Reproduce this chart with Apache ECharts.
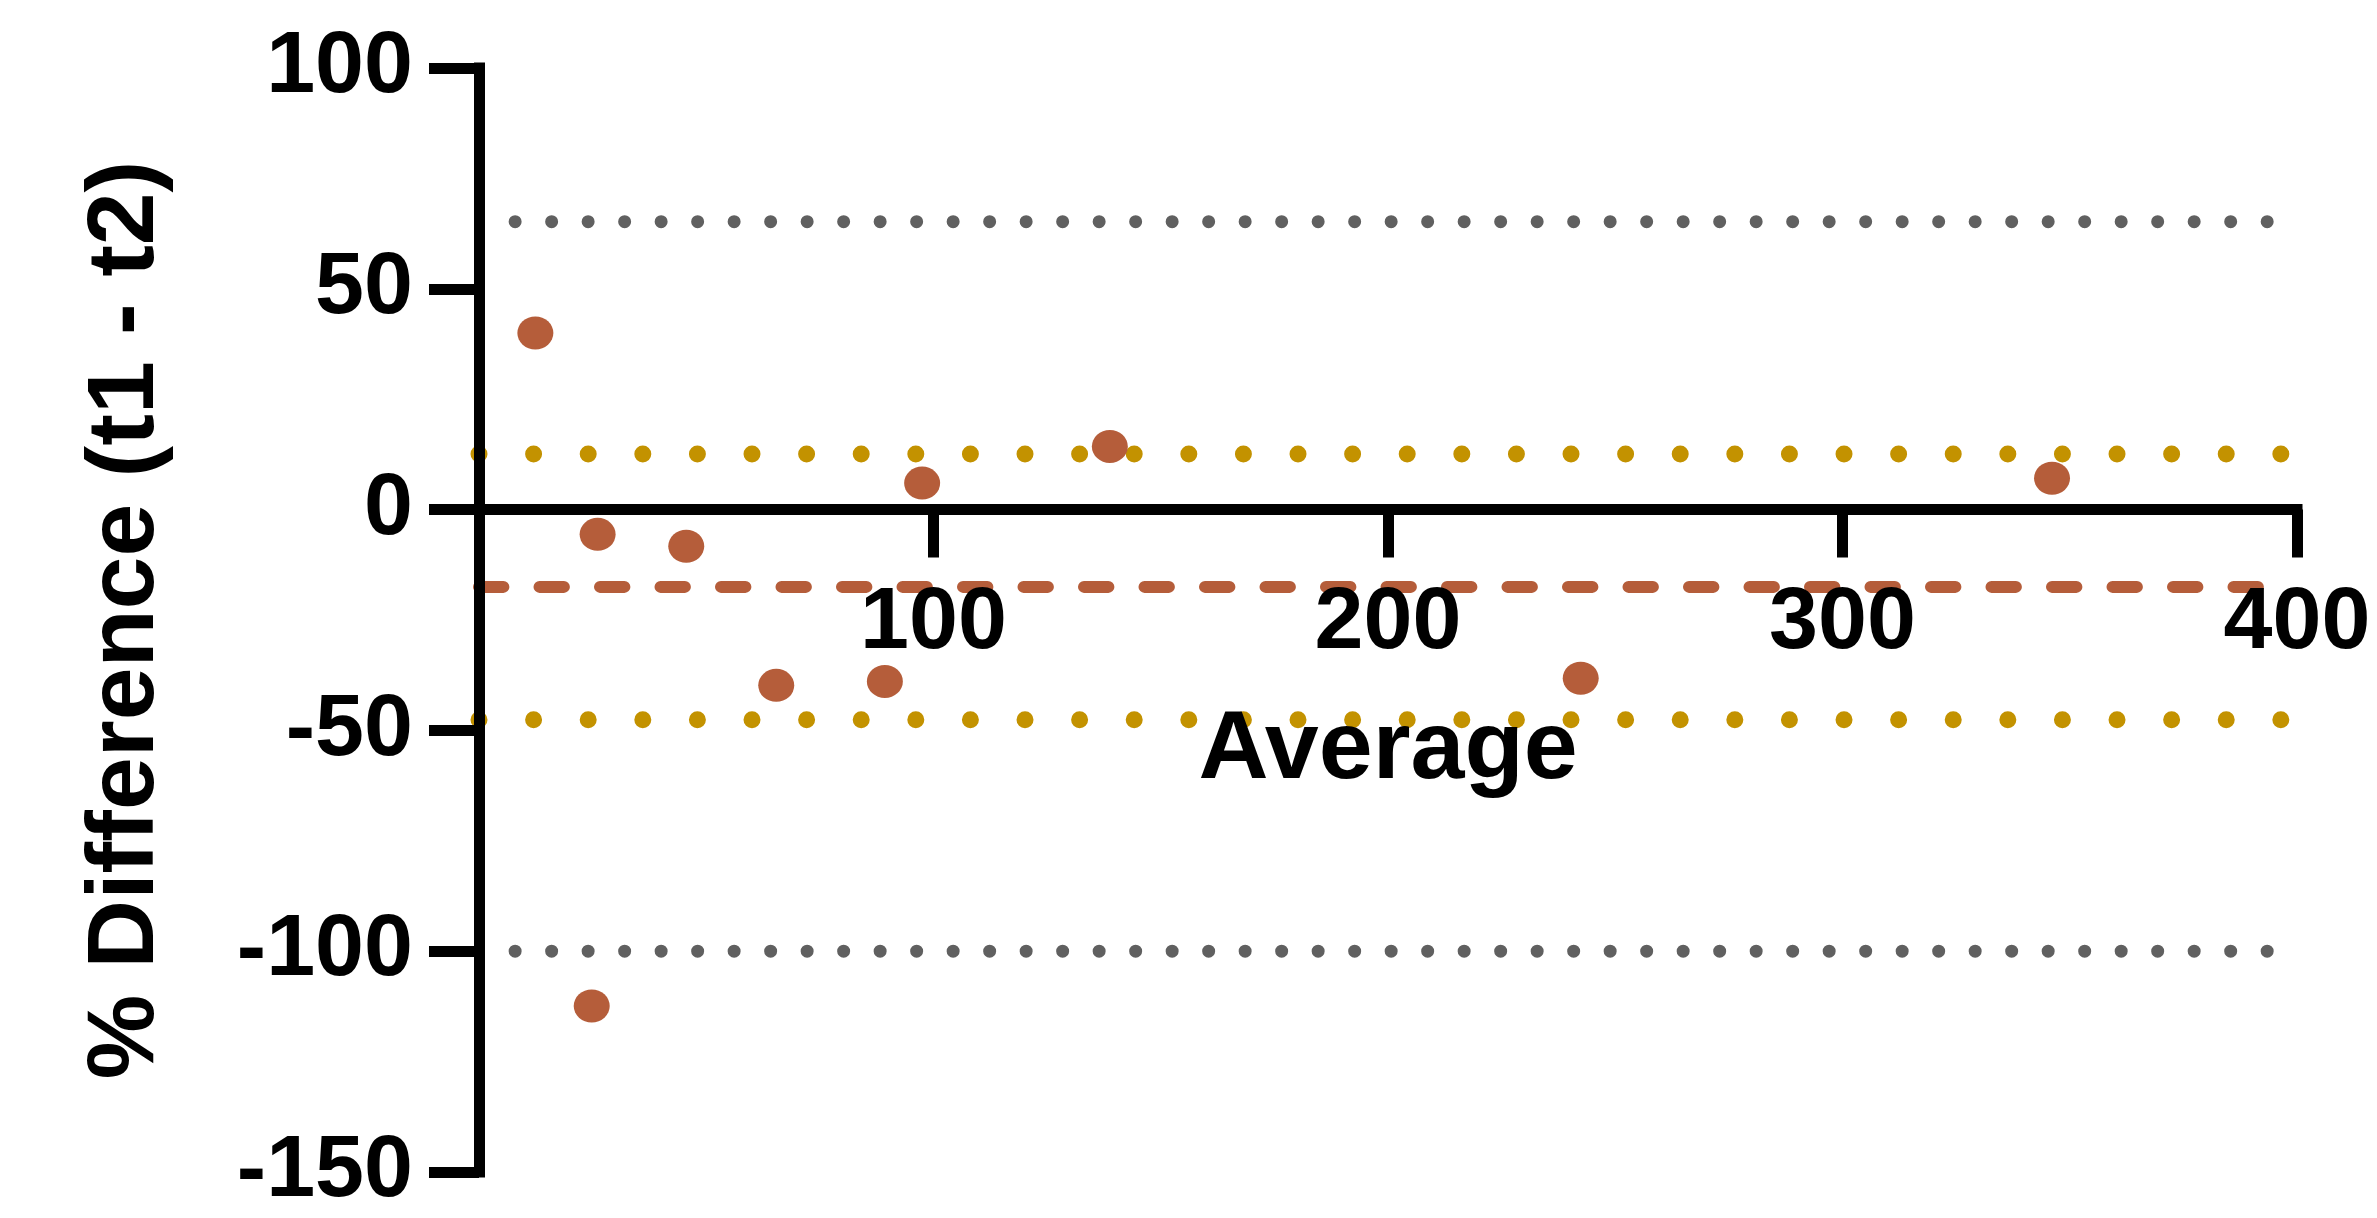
<!DOCTYPE html>
<html>
<head>
<meta charset="utf-8">
<title>Bland-Altman: % Difference vs Average</title>
<script src="https://cdn.jsdelivr.net/npm/echarts@6/dist/echarts.min.js"></script>
<style>
  html, body { margin: 0; padding: 0; background: #ffffff; }
  #chart { width: 2377px; height: 1218px; }
</style>
</head>
<body>
<div id="chart"></div>
<script>
// Paired measurements: mean of the two timepoints and their % difference
const averageValues = [12.4, 24.8, 26.1, 45.6, 65.4, 89.3, 97.5, 138.8, 242.4, 346.1];
const percentDiff   = [40.0, -112.4, -5.6, -8.3, -39.8, -38.9, 6.0, 14.3, -38.2, 7.1];

// Reference levels
const biasLevel = -17.5;
const loaLevels = [12.6, -47.6];
const outerLevels = [65.2, -100];

// Horizontal extent of each reference line (x units)
const biasSpan = [0, 393];
const loaSpan = [0, 398];
const outerSpan = [7.95, 393.6];

// Axis ranges
const xRange = [0, 400, 100];
const yRange = [-150, 100, 50];

const BROWN = '#B55D3A';
const GOLD = '#C39200';
const GREY = '#606060';
const FONT = '"Liberation Sans", Arial, Helvetica, sans-serif';

const W = 2377, H = 1218;
const GRID = { left: 479, right: 80, top: 68, bottom: 46 };
// The horizontal axis sits on y = 0: shift it up from the grid's bottom edge
const plotH = H - GRID.top - GRID.bottom;
const zeroShift = (0 - yRange[0]) / (yRange[1] - yRange[0]) * plotH;

const points = averageValues.map((x, i) => [x, percentDiff[i]]);
const hLine = (y, span) => [[span[0], y], [span[1], y]];

function refSeries(name, y, span, style) {
  return {
    name: name,
    type: 'line',
    data: hLine(y, span),
    symbol: 'none',
    silent: true,
    z: 2,
    lineStyle: style
  };
}

const series = [];
outerLevels.forEach((y, i) => series.push(refSeries('outer' + i, y, outerSpan, {
  color: GREY, width: 13, type: [0.001, 36.5], cap: 'round'
})));
loaLevels.forEach((y, i) => series.push(refSeries('loa' + i, y, loaSpan, {
  color: GOLD, width: 17, type: [0.001, 54.6], cap: 'round'
})));
series.push(refSeries('bias', biasLevel, biasSpan, {
  color: BROWN, width: 12, type: [24.4, 36.1], cap: 'round'
}));
series.push({
  name: 'points',
  type: 'scatter',
  data: points,
  symbol: 'circle',
  symbolSize: [36, 33],
  itemStyle: { color: BROWN, opacity: 1 },
  z: 3
});

const chart = echarts.init(document.getElementById('chart'), null, { renderer: 'canvas' });
chart.setOption({
  animation: false,
  backgroundColor: '#ffffff',
  grid: Object.assign({ containLabel: false, outerBoundsMode: 'none' }, GRID),
  xAxis: {
    type: 'value',
    position: 'bottom',
    offset: -zeroShift,
    min: xRange[0], max: xRange[1], interval: xRange[2],
    z: 10,
    name: 'Average',
    nameLocation: 'middle',
    nameGap: 193,
    nameTextStyle: { fontFamily: FONT, fontWeight: 'bold', fontSize: 97, color: '#000' },
    axisLine: { onZero: false, lineStyle: { color: '#000', width: 11, cap: 'square' } },
    axisTick: { show: true, length: 48, lineStyle: { color: '#000', width: 11 } },
    axisLabel: {
      showMinLabel: false,
      margin: 70,
      fontFamily: FONT, fontWeight: 'bold', fontSize: 88, color: '#000'
    },
    splitLine: { show: false }
  },
  yAxis: {
    type: 'value',
    min: yRange[0], max: yRange[1], interval: yRange[2],
    z: 10,
    name: '% Difference (t1 - t2)',
    nameLocation: 'middle',
    nameGap: 305,
    nameTextStyle: { fontFamily: FONT, fontWeight: 'bold', fontSize: 95, color: '#000' },
    axisLine: { onZero: false, lineStyle: { color: '#000', width: 11, cap: 'square' } },
    axisTick: { show: true, length: 50, lineStyle: { color: '#000', width: 11 } },
    axisLabel: {
      margin: 66,
      fontFamily: FONT, fontWeight: 'bold', fontSize: 88, color: '#000'
    },
    splitLine: { show: false }
  },
  series: series
});
</script>
</body>
</html>
